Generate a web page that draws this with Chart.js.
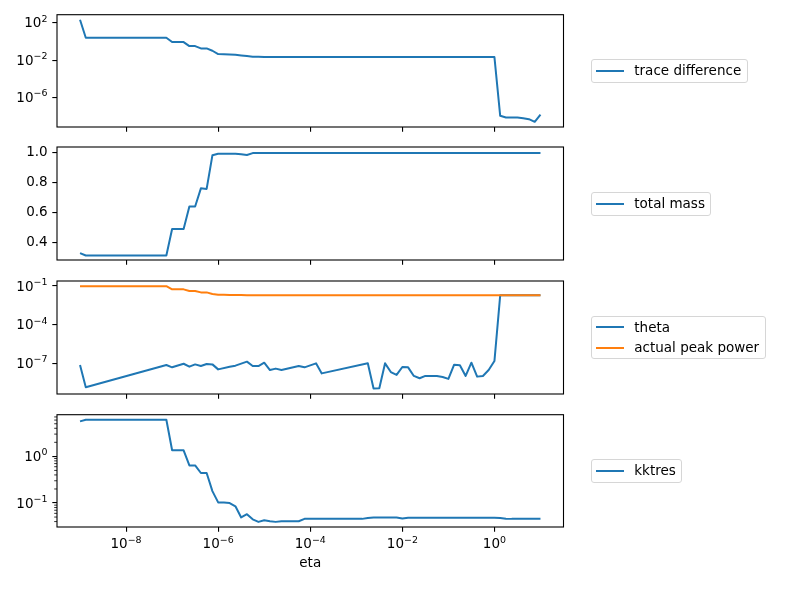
<!DOCTYPE html>
<html><head><meta charset="utf-8">
<script src="https://cdn.jsdelivr.net/npm/chart.js@4.4.0/dist/chart.umd.min.js"></script>
<style>
html,body{margin:0;padding:0;background:#fff;}
#wrap{position:relative;width:785px;height:589px;overflow:hidden;background:#fff;}
canvas{position:absolute;left:0;top:0;}
.leg{position:absolute;left:590.7px;border:1px solid #d6d6d6;border-radius:3px;padding:4px 5.4px 4px 4px;background:rgba(255,255,255,0.8);font-family:'DejaVu Sans';font-size:13.5px;color:#000;}
.row{height:13.5px;line-height:13.5px;display:flex;align-items:center;white-space:nowrap;}
.row + .row{margin-top:6.6px;}
.h{display:inline-block;width:28px;height:2px;margin-right:10.6px;}
</style></head><body>
<div id="wrap">
<canvas id="c1" width="785" height="589"></canvas>
<canvas id="c2" width="785" height="589"></canvas>
<canvas id="c3" width="785" height="589"></canvas>
<canvas id="c4" width="785" height="589"></canvas>
<div class="leg" style="top:59.3px"><div class="row"><span class="h" style="background:#1f77b4"></span><span>trace difference</span></div></div>
<div class="leg" style="top:192.3px"><div class="row"><span class="h" style="background:#1f77b4"></span><span>total mass</span></div></div>
<div class="leg" style="top:315.7px"><div class="row"><span class="h" style="background:#1f77b4"></span><span>theta</span></div><div class="row"><span class="h" style="background:#ff7f0e"></span><span>actual peak power</span></div></div>
<div class="leg" style="top:459px"><div class="row"><span class="h" style="background:#1f77b4"></span><span>kktres</span></div></div>
</div>
<script>
// ---- data ----
const eta = [1e-9, 1.334e-9,
  7.499e-8,
  1e-7, 1.334e-7, 1.778e-7, 2.371e-7, 3.162e-7, 4.217e-7, 5.623e-7, 7.499e-7,
  1e-6, 1.334e-6, 1.778e-6, 2.371e-6, 3.162e-6, 4.217e-6, 5.623e-6, 7.499e-6,
  1e-5, 1.334e-5, 1.778e-5, 2.371e-5, 3.162e-5, 4.217e-5, 5.623e-5, 7.499e-5,
  1e-4, 1.334e-4, 1.778e-4, 2.371e-4, 3.162e-4, 4.217e-4, 5.623e-4, 7.499e-4,
  1e-3, 1.334e-3, 1.778e-3, 2.371e-3, 3.162e-3, 4.217e-3, 5.623e-3, 7.499e-3,
  1e-2, 1.334e-2, 1.778e-2, 2.371e-2, 3.162e-2, 4.217e-2, 5.623e-2, 7.499e-2,
  1e-1, 1.334e-1, 1.778e-1, 2.371e-1, 3.162e-1, 4.217e-1, 5.623e-1, 7.499e-1,
  1, 1.334, 1.778, 2.371, 3.162, 4.217, 5.623, 7.499,
  10];

const traceDifference = [204, 2.45,
  2.45,
  0.85, 0.85, 0.85, 0.316, 0.316, 0.178, 0.178, 0.1,
  0.0437, 0.0427, 0.0407, 0.0372, 0.0316, 0.0269, 0.0234, 0.0224,
  0.0214, 0.0209, 0.0209, 0.0209, 0.0209, 0.0209, 0.0209, 0.0209,
  0.0209, 0.0209, 0.0209, 0.0209, 0.0209, 0.0209, 0.0209, 0.0209,
  0.0209, 0.0209, 0.0209, 0.0209, 0.0209, 0.0209, 0.0209, 0.0209,
  0.0209, 0.0209, 0.0209, 0.0209, 0.0209, 0.0209, 0.0209, 0.0209,
  0.0209, 0.0209, 0.0209, 0.0209, 0.0209, 0.0209, 0.0209, 0.0209,
  0.0209, 1.1e-8, 7.2e-9, 7.2e-9, 7.2e-9, 6.2e-9, 4.8e-9, 2.5e-9,
  1.5e-8];

const totalMass = [0.326, 0.31,
  0.31,
  0.488, 0.488, 0.488, 0.64, 0.64, 0.762, 0.758, 0.984,
  0.995, 0.995, 0.995, 0.995, 0.991, 0.986, 0.999, 0.999,
  1.0, 1.0, 1.0, 1.0, 1.0, 1.0, 1.0, 1.0,
  1.0, 1.0, 1.0, 1.0, 1.0, 1.0, 1.0, 1.0,
  1.0, 1.0, 1.0, 1.0, 1.0, 1.0, 1.0, 1.0,
  1.0, 1.0, 1.0, 1.0, 1.0, 1.0, 1.0, 1.0,
  1.0, 1.0, 1.0, 1.0, 1.0, 1.0, 1.0, 1.0,
  1.0, 1.0, 1.0, 1.0, 1.0, 1.0, 1.0, 1.0,
  1.0];

const theta = [7.4e-8, 1.38e-9,
  7.4e-8,
  4.9e-8, null, 9.3e-8, 5.5e-8, 8.3e-8, 6.2e-8, 8.9e-8, 8.3e-8,
  3.4e-8, null, 5.5e-8, 6.6e-8, null, 1.35e-7, 6.2e-8, 6.2e-8,
  1.12e-7, 3.0e-8, 3.9e-8, 3.0e-8, null, null, 6.2e-8, 4.9e-8,
  null, 1.0e-7, 1.66e-8, null, null, null, null, null,
  null, null, 1.0e-7, 1.1e-9, 1.15e-9, 1.0e-7, 2.1e-8, 1.26e-8,
  5.2e-8, 4.9e-8, 1.05e-8, 6.9e-9, 1.05e-8, 1.05e-8, 1.05e-8, 8.7e-9,
  6.2e-9, 7.9e-8, 7.1e-8, 1.05e-8, 1.12e-7, 9.3e-9, 1.05e-8, 3.0e-8,
  1.5e-7, 0.019, 0.019, 0.019, 0.019, 0.019, 0.019, 0.019,
  0.019];

const actualPeakPower = [0.098, 0.098,
  0.098,
  0.055, 0.055, 0.055, 0.041, 0.041, 0.032, 0.032, 0.024,
  0.0214, 0.0209, 0.0204, 0.020, 0.020, 0.0195, 0.019, 0.019,
  0.019, 0.019, 0.019, 0.019, 0.019, 0.019, 0.019, 0.019,
  0.019, 0.019, 0.019, 0.019, 0.019, 0.019, 0.019, 0.019,
  0.019, 0.019, 0.019, 0.019, 0.019, 0.019, 0.019, 0.019,
  0.019, 0.019, 0.019, 0.019, 0.019, 0.019, 0.019, 0.019,
  0.019, 0.019, 0.019, 0.019, 0.019, 0.019, 0.019, 0.019,
  0.019, 0.019, 0.019, 0.019, 0.019, 0.019, 0.019, 0.019,
  0.019];

const kktres = [5.62, 6.08,
  6.08,
  1.35, 1.35, 1.35, 0.64, 0.64, 0.44, 0.44, 0.18,
  0.103, 0.102, 0.1, 0.085, 0.049, 0.0575, 0.0447, 0.0394,
  0.0427, 0.0407, 0.0394, 0.0407, 0.0407, 0.0407, 0.0407, 0.0457,
  0.0457, 0.0457, 0.0457, 0.0457, 0.0457, 0.0457, 0.0457, 0.0457,
  0.0457, 0.0457, 0.0479, 0.049, 0.049, 0.049, 0.049, 0.049,
  0.0468, 0.0484, 0.0484, 0.0484, 0.0484, 0.0484, 0.0484, 0.0484,
  0.0484, 0.0484, 0.0484, 0.0484, 0.0484, 0.0484, 0.0484, 0.0484,
  0.0484, 0.0479, 0.0462, 0.0457, 0.0457, 0.0457, 0.0457, 0.0457,
  0.0457];

// tick labels as "base^exponent"
const xTickValues = [1e-8, 1e-6, 1e-4, 1e-2, 1];
const xTickLabels = ['10^\u22128', '10^\u22126', '10^\u22124', '10^\u22122', '10^0'];
const traceTickValues = [1e-6, 1e-2, 1e2];
const traceTickLabels = ['10^\u22126', '10^\u22122', '10^2'];
const massTickValues = [0.4, 0.6, 0.8, 1.0];
const massTickLabels = ['0.4', '0.6', '0.8', '1.0'];
const thetaTickValues = [1e-7, 1e-4, 1e-1];
const thetaTickLabels = ['10^\u22127', '10^\u22124', '10^\u22121'];
const kktTickValues = [0.1, 1];
const kktTickLabels = ['10^\u22121', '10^0'];
const kktMinorTicks = [0.04, 0.05, 0.06, 0.07, 0.08, 0.09, 0.2, 0.3, 0.4, 0.5, 0.6, 0.7, 0.8, 0.9, 2, 3, 4, 5, 6, 7];
const xLabel = 'eta';

// ---- drawing ----
const W = 785, H = 589, LEFT = 57, RIGHT = 563.5;
const FS = 13.5, SUP = 9.45;
const FONT = {family: "'DejaVu Sans'", size: FS};
const BLUE = '#1f77b4', ORANGE = '#ff7f0e';

const framePlugin = {
  id: 'frame',
  afterDraw(chart) {
    const {ctx, chartArea: a} = chart;
    ctx.save();
    ctx.strokeStyle = '#000';
    ctx.lineWidth = 1.1;
    ctx.strokeRect(a.left, a.top, a.right - a.left, a.bottom - a.top);
    const mt = chart.options.plugins.minorTicks;
    if (mt && mt.values) {
      const ys = chart.scales.y;
      ctx.lineWidth = 0.8;
      ctx.beginPath();
      mt.values.forEach(v => {
        const py = ys.getPixelForValue(v);
        ctx.moveTo(a.left, py);
        ctx.lineTo(a.left - 2.8, py);
      });
      ctx.stroke();
    }
    ctx.restore();
  }
};

// draws "10" with a raised, smaller exponent at each tick of a log axis
const powLabelPlugin = {
  id: 'powLabels',
  afterDraw(chart) {
    const list = chart.options.plugins.powLabels;
    if (!list || !list.length) return;
    const {ctx, chartArea: a} = chart;
    ctx.save();
    ctx.fillStyle = '#000';
    ctx.textBaseline = 'alphabetic';
    ctx.textAlign = 'left';
    list.forEach(item => {
      const s = chart.scales[item.axis];
      item.values.forEach((v, i) => {
        const parts = item.labels[i].split('^');
        const base = parts[0], exp = parts[1] || '';
        ctx.font = FS + "px 'DejaVu Sans'";
        const wb = ctx.measureText(base).width;
        ctx.font = SUP + "px 'DejaVu Sans'";
        const we = ctx.measureText(exp).width;
        let x0, yb;
        if (item.axis === 'x') {
          x0 = s.getPixelForValue(v) - (wb + we) / 2;
          yb = a.bottom + 21.3;
        } else {
          x0 = a.left - 9.6 - (wb + we);
          yb = s.getPixelForValue(v) + 4.7;
        }
        ctx.font = FS + "px 'DejaVu Sans'";
        ctx.fillText(base, x0, yb);
        ctx.font = SUP + "px 'DejaVu Sans'";
        ctx.fillText(exp, x0 + wb, yb - 5.8);
      });
    });
    ctx.restore();
  }
};

function series(vals) {
  return eta.map((x, i) => ({x: x, y: vals[i]}));
}

function makeChart(id, p) {
  const xH = p.showX ? 50 : 10;
  const pow = [];
  if (p.showX) pow.push({axis: 'x', values: xTickValues, labels: xTickLabels});
  if (p.yType === 'logarithmic') pow.push({axis: 'y', values: p.yTicks, labels: p.yLabels});
  return new Chart(document.getElementById(id), {
    type: 'line',
    data: {datasets: p.datasets},
    options: {
      responsive: false, animation: false, events: [],
      layout: {padding: {left: 0, right: W - RIGHT, top: p.top, bottom: H - p.bottom - xH}},
      elements: {point: {radius: 0}, line: {tension: 0, borderWidth: 2, borderJoinStyle: 'round'}},
      spanGaps: true,
      plugins: {legend: {display: false}, tooltip: {enabled: false},
                minorTicks: {values: p.minor || null}, powLabels: pow},
      scales: {
        x: {
          type: 'logarithmic', min: Math.pow(10, -9.5), max: Math.pow(10, 1.5),
          afterBuildTicks: s => { s.ticks = xTickValues.map(v => ({value: v})); },
          afterFit: s => { s.height = xH; },
          border: {display: false},
          grid: {drawOnChartArea: false, drawTicks: true, tickLength: 4.7, tickColor: '#000', lineWidth: 1.1},
          ticks: {display: false, autoSkip: false, maxRotation: 0, padding: 3, color: '#000', font: FONT,
                  callback: (v, i) => xTickLabels[i]},
          title: {display: p.showX, text: xLabel, color: '#000', font: FONT, padding: {top: 0, bottom: 5.6}}
        },
        y: {
          type: p.yType, min: p.yMin, max: p.yMax,
          afterBuildTicks: s => { s.ticks = p.yTicks.map(v => ({value: v})); },
          afterFit: s => { s.width = LEFT; },
          border: {display: false},
          grid: {drawOnChartArea: false, drawTicks: true, tickLength: 4.7, tickColor: '#000', lineWidth: 1.1},
          ticks: {display: p.yType !== 'logarithmic', autoSkip: false, padding: 4.7, color: '#000', font: FONT,
                  callback: (v, i) => p.yLabels[i]}
        }
      }
    },
    plugins: [framePlugin, powLabelPlugin]
  });
}

makeChart('c1', {top: 14.7, bottom: 127, showX: false, yType: 'logarithmic',
  yMin: 7.08e-10, yMax: 719, yTicks: traceTickValues, yLabels: traceTickLabels,
  datasets: [{label: 'trace difference', data: series(traceDifference), borderColor: BLUE}]});

makeChart('c2', {top: 147, bottom: 260, showX: false, yType: 'linear',
  yMin: 0.28, yMax: 1.04, yTicks: massTickValues, yLabels: massTickLabels,
  datasets: [{label: 'total mass', data: series(totalMass), borderColor: BLUE}]});

makeChart('c3', {top: 281, bottom: 394, showX: false, yType: 'logarithmic',
  yMin: 4.17e-10, yMax: 0.2455, yTicks: thetaTickValues, yLabels: thetaTickLabels,
  datasets: [
    {label: 'theta', data: series(theta), borderColor: BLUE, order: 2},
    {label: 'actual peak power', data: series(actualPeakPower), borderColor: ORANGE, order: 1}
  ]});

makeChart('c4', {top: 414.7, bottom: 527, showX: true, yType: 'logarithmic',
  yMin: 0.0306, yMax: 7.82, yTicks: kktTickValues, yLabels: kktTickLabels, minor: kktMinorTicks,
  datasets: [{label: 'kktres', data: series(kktres), borderColor: BLUE}]});
</script>
</body></html>
